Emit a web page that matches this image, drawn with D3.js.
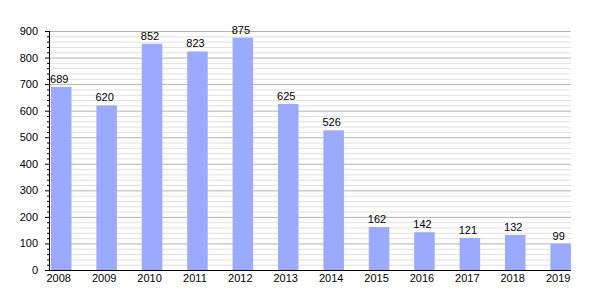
<!DOCTYPE html>
<html><head><meta charset="utf-8">
<script src="https://cdn.jsdelivr.net/npm/d3@7"></script>
<style>body{margin:0;background:#fff}svg{display:block}text{font-family:"Liberation Sans",Arial,sans-serif;font-size:11px;fill:#000}</style>
</head><body><div id="c"></div>
<script>
const years = ["2008","2009","2010","2011","2012","2013","2014","2015","2016","2017","2018","2019"];
const values = [689,620,852,823,875,625,526,162,142,121,132,99];
const yTicks = [0,100,200,300,400,500,600,700,800,900];

(function(){
const W=600,H=300;
const mLeft=50, plotRight=571, mBottom=270, mTop=31;
const svg=d3.select("#c").append("svg").attr("width",W).attr("height",H);
const x=d3.scaleBand().domain(years).range([mLeft, mLeft+12*45.4]).padding(0);
const y=d3.scaleLinear().domain([0,900]).range([mBottom,mTop]);
const barW=20.5;

const minor=d3.range(0,901,20).filter(v=>v%100!==0);
svg.append("g").selectAll("line").data(minor).join("line")
  .attr("x1",mLeft).attr("x2",plotRight).attr("y1",d=>y(d)+0.5).attr("y2",d=>y(d)+0.5)
  .attr("stroke","#e0e0e0").attr("stroke-width",1);
svg.append("g").selectAll("line").data(yTicks.filter(v=>v>0)).join("line")
  .attr("x1",mLeft).attr("x2",plotRight).attr("y1",d=>y(d)+0.5).attr("y2",d=>y(d)+0.5)
  .attr("stroke","#b3b3b3").attr("stroke-width",1);

svg.append("g").selectAll("rect").data(values).join("rect")
  .attr("x",(d,i)=>x(years[i])+1).attr("width",barW)
  .attr("y",d=>y(d)).attr("height",d=>mBottom-y(d))
  .attr("fill","#99aaff");

svg.append("g").selectAll("text").data(values).join("text")
  .attr("x",(d,i)=>x(years[i])+1+barW/2-2).attr("y",d=>y(d)-4)
  .attr("text-anchor","middle").text(d=>d);

const ya=svg.append("g");
ya.selectAll("line.min").data(minor).join("line").attr("class","min")
  .attr("x1",mLeft-3).attr("x2",mLeft).attr("y1",d=>y(d)+0.5).attr("y2",d=>y(d)+0.5).attr("stroke","#000");
ya.selectAll("line.maj").data(yTicks).join("line").attr("class","maj")
  .attr("x1",mLeft-5).attr("x2",mLeft).attr("y1",d=>y(d)+0.5).attr("y2",d=>y(d)+0.5).attr("stroke","#000");
ya.selectAll("text").data(yTicks).join("text")
  .attr("x",mLeft-12).attr("y",d=>y(d)+4).attr("text-anchor","end").text(d=>d);
svg.append("line").attr("x1",mLeft-0.5).attr("x2",mLeft-0.5).attr("y1",mTop).attr("y2",mBottom+1).attr("stroke","#000");
svg.append("line").attr("x1",mLeft-0.5).attr("x2",plotRight).attr("y1",mBottom+0.5).attr("y2",mBottom+0.5).attr("stroke","#000");

svg.append("g").selectAll("text").data(years).join("text")
  .attr("x",d=>x(d)+1+barW/2-2.5).attr("y",mBottom+12).attr("text-anchor","middle").text(d=>d);
})();
</script></body></html>
